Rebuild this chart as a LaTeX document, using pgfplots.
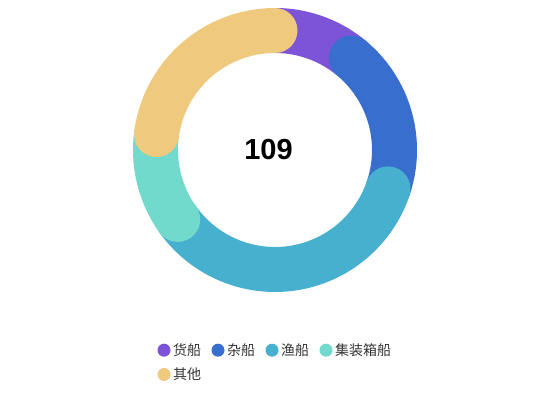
\documentclass[border=0pt]{standalone}
\usepackage{pgfplots}
\pgfplotsset{compat=1.18}
\usepackage{fontspec}
\setmainfont{Liberation Sans}
\newfontfamily\cjk{Noto Sans CJK SC}

\definecolor{cHuo}{RGB}{125,84,216}
\definecolor{cZa}{RGB}{56,111,206}
\definecolor{cYu}{RGB}{70,176,206}
\definecolor{cJi}{RGB}{114,218,204}
\definecolor{cQt}{RGB}{238,201,126}

% one ring segment per category, clockwise from the top
\def\total{109}
\def\cum{0}
\newcommand{\slice}[2]{%
  \pgfmathsetmacro\aEnd{90-\cum*(360/\total)}%
  \pgfmathsetmacro\newcum{\cum+#2}%
  \global\let\cum\newcum
  \pgfmathsetmacro\aStart{90-\cum*(360/\total)}%
  \edef\doslice{\noexpand\addplot[color=#1, line width=45pt, line cap=round,
    domain=\aStart:\aEnd, samples=80]}%
  \doslice ({275+119.5*cos(x)}, {270+119.5*sin(x)});%
}

\begin{document}
\begin{tikzpicture}
\useasboundingbox (0,0) rectangle (550pt,420pt);
\begin{axis}[
    at={(0,0)}, anchor=south west,
    width=550pt, height=420pt, scale only axis,
    xmin=0, xmax=550, ymin=0, ymax=420,
    hide axis, clip=false,
    legend columns=4,
    legend cell align=left,
    legend image code/.code={\fill[#1, draw=none, line width=0pt] (0pt,0pt) circle (6.5pt);},
    legend style={draw=none, fill=none, inner sep=0pt, outer sep=0pt,
        at={(0.2864,0.1821)}, anchor=north west,
        font=\cjk\fontsize{14pt}{16pt}\selectfont, text=black!80,
        nodes={inner sep=0pt},
        /tikz/every odd column/.style={column sep=2.5pt},
        /tikz/every even column/.style={column sep=10.5pt},
        row sep=11pt},
  ]
\slice{cHuo}{12}
\slice{cZa}{21}
\slice{cYu}{38}
\slice{cJi}{13}
\slice{cQt}{25}
\node[font=\bfseries\fontsize{29pt}{30pt}\selectfont] at (axis cs:268.5,270) {109};
\legend{货船,杂船,渔船,集装箱船,其他}
\end{axis}
\end{tikzpicture}
\end{document}
